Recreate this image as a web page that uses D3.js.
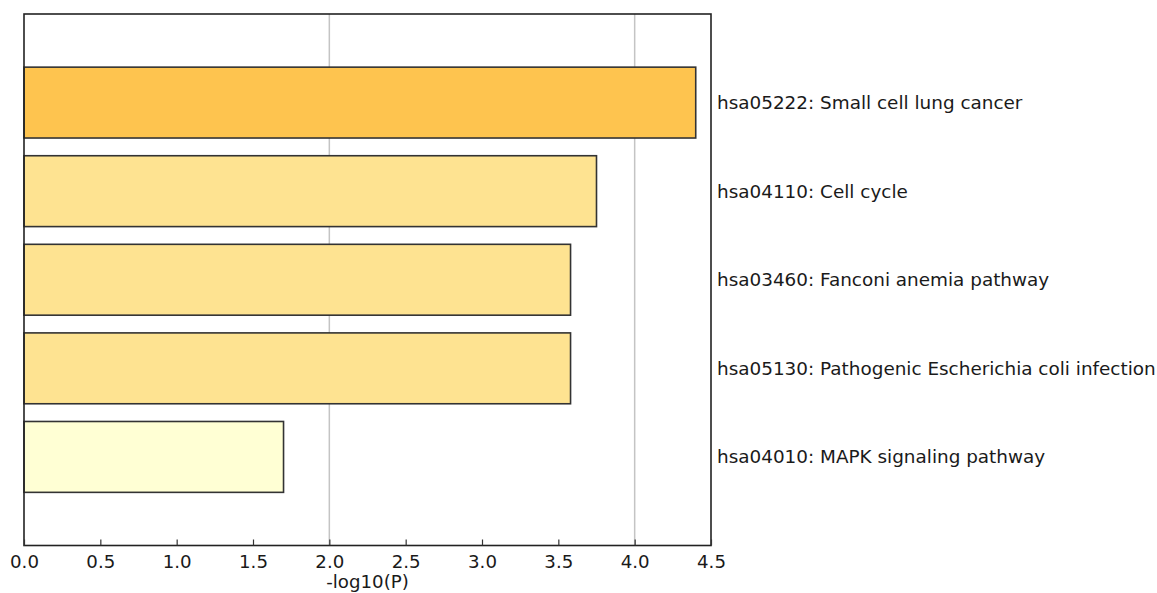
<!DOCTYPE html>
<html>
<head>
<meta charset="utf-8">
<script src="https://cdn.jsdelivr.net/npm/d3@7"></script>
<style>
  html, body { margin: 0; padding: 0; background: #fff; }
  svg { display: block; font-family: "DejaVu Sans", sans-serif; }
</style>
</head>
<body>
<svg id="chart" width="1157" height="593"></svg>
<script>
// Enriched KEGG pathways, top to bottom
const terms = [
  "hsa05222: Small cell lung cancer",
  "hsa04110: Cell cycle",
  "hsa03460: Fanconi anemia pathway",
  "hsa05130: Pathogenic Escherichia coli infection",
  "hsa04010: MAPK signaling pathway"
];
const logP = [4.40, 3.75, 3.58, 3.58, 1.70];
const barColors = ["#fec44f", "#fee391", "#fee391", "#fee391", "#ffffd4"];
const xTicks = [0, 0.5, 1, 1.5, 2, 2.5, 3, 3.5, 4, 4.5];
const gridValues = [2, 4];
const xLabel = "-log10(P)";

const svg = d3.select("#chart");
const plotLeft = 24, plotRight = 711, plotTop = 14, plotBottom = 545.5;

const x = d3.scaleLinear().domain([0, 4.5]).range([plotLeft, plotRight]);
// vertical position: one unit per bar, with one unit of padding above and below
const y = d3.scaleLinear().domain([-1, terms.length]).range([plotTop, plotBottom]);
const barH = 0.8;

// vertical gridlines
svg.append("g").selectAll("line").data(gridValues).join("line")
  .attr("x1", d => x(d)).attr("x2", d => x(d))
  .attr("y1", plotTop).attr("y2", plotBottom)
  .attr("stroke", "#c4c4c4").attr("stroke-width", 1.5);

// bars
svg.append("g").selectAll("rect").data(logP).join("rect")
  .attr("x", x(0))
  .attr("y", (d, i) => y(i - barH / 2))
  .attr("width", d => x(d) - x(0))
  .attr("height", y(barH) - y(0))
  .attr("fill", (d, i) => barColors[i])
  .attr("stroke", "#333")
  .attr("stroke-width", 1.6);

// frame
svg.append("rect")
  .attr("x", plotLeft).attr("y", plotTop)
  .attr("width", plotRight - plotLeft).attr("height", plotBottom - plotTop)
  .attr("fill", "none").attr("stroke", "#222").attr("stroke-width", 1.6);

// bottom axis with inward ticks
const xAxis = d3.axisBottom(x).tickValues(xTicks).tickFormat(d3.format(".1f"))
  .tickSizeInner(-6).tickSizeOuter(0).tickPadding(10);
const gx = svg.append("g").attr("transform", `translate(0,${plotBottom})`).call(xAxis);
gx.select(".domain").remove();
gx.selectAll(".tick line").attr("stroke", "#333").attr("stroke-width", 1.2);
gx.selectAll(".tick text")
  .attr("font-size", 18.2).attr("fill", "#1a1a1a")
  .attr("font-family", "DejaVu Sans, sans-serif");

// axis label
svg.append("text")
  .attr("x", (plotLeft + plotRight) / 2).attr("y", 588)
  .attr("text-anchor", "middle")
  .attr("font-size", 18.2).attr("fill", "#1a1a1a")
  .text(xLabel);

// pathway labels to the right of the plot
svg.append("g").selectAll("text").data(terms).join("text")
  .attr("x", plotRight + 6)
  .attr("y", (d, i) => y(i))
  .attr("dy", "0.35em")
  .attr("font-size", 18.4).attr("fill", "#1a1a1a")
  .text(d => d);
</script>
</body>
</html>
